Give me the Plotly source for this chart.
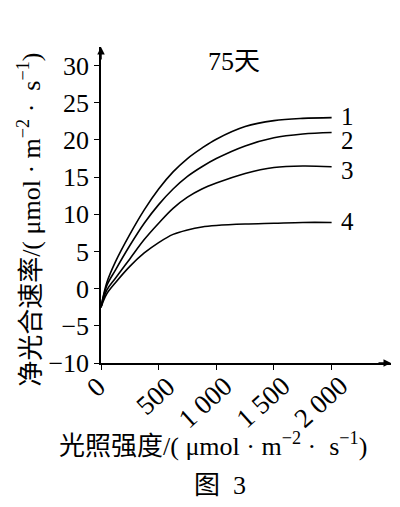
import plotly.graph_objects as go

# Data
light = [0, 50, 125, 250, 375, 500, 625, 750, 875, 1000, 1250, 1500, 1750, 2000]
curve1 = [-2.5, 0.8, 3.6, 7.3, 10.6, 13.4, 15.7, 17.5, 18.9, 20.1, 21.8, 22.6, 22.9, 23.0]
curve2 = [-2.5, 0.4, 2.5, 5.8, 8.8, 11.3, 13.4, 15.1, 16.4, 17.5, 19.2, 20.3, 20.8, 21.0]
curve3 = [-2.5, -0.2, 1.4, 4.0, 6.6, 8.8, 10.8, 12.3, 13.4, 14.2, 15.5, 16.3, 16.5, 16.4]
curve4 = [-2.5, -0.7, 0.8, 3.0, 4.8, 6.2, 7.3, 7.9, 8.3, 8.5, 8.7, 8.8, 8.9, 8.9]
curve_names = ["1", "2", "3", "4"]
label_y = [23.2, 19.9, 15.9, 9.0]

x_ticks = [0, 500, 1000, 1500, 2000]
x_ticktext = ["0", "500", "1 000", "1 500", "2 000"]
y_ticks = [-10, -5, 0, 5, 10, 15, 20, 25, 30]
y_ticktext = ["−10", "−5", "0", "5", "10", "15", "20", "25", "30"]

FONT = "Liberation Serif, Noto Sans CJK SC, serif"

fig = go.Figure()
for ys in [curve1, curve2, curve3, curve4]:
    fig.add_trace(go.Scatter(x=light, y=ys, mode="lines",
                             line=dict(color="black", width=1.6, shape="spline", smoothing=1.0),
                             showlegend=False, hoverinfo="skip"))

for name, ly in zip(curve_names, label_y):
    fig.add_annotation(x=2000, y=ly, text=name, showarrow=False, xanchor="left",
                       yanchor="middle", xshift=7, font=dict(size=25, color="black", family=FONT))

# page body has an 8px margin; figure sized so plot area lands where the reference has it
fig.update_layout(
    width=384, height=491,
    margin=dict(l=93, r=1, t=39, b=136),
    plot_bgcolor="white", paper_bgcolor="white",
    font=dict(family=FONT, color="black", size=22),
    xaxis=dict(range=[0, 2515], tickvals=x_ticks, showticklabels=False,
               automargin=False,
               showgrid=False, zeroline=False, showline=True, linecolor="black", linewidth=1.5,
               ticks="outside", ticklen=5, tickwidth=1.3, tickcolor="black"),
    yaxis=dict(range=[-10, 32.5], tickvals=y_ticks, ticktext=y_ticktext,
               automargin=False,
               showgrid=False, zeroline=False, showline=True, linecolor="black", linewidth=1.5,
               ticks="outside", ticklen=5, tickwidth=1.3, tickcolor="black",
               tickfont=dict(size=26, family=FONT)),
)

# rotated x tick labels
for tv, tt in zip(x_ticks, x_ticktext):
    fig.add_annotation(x=tv, xref="x", y=0, yref="paper", text=tt, showarrow=False,
                       textangle=-42, xanchor="right", yanchor="top",
                       xshift=13 if tv == 0 else 25, yshift=-5,
                       font=dict(size=27, family=FONT))

# axis arrows
fig.add_annotation(xref="paper", yref="paper", x=1.0, y=0, ax=-14, ay=0,
                   showarrow=True, arrowhead=2, arrowsize=1, arrowwidth=1.5, arrowcolor="black", text="")
fig.add_annotation(xref="paper", yref="paper", x=0, y=1.0, ax=0, ay=14,
                   showarrow=True, arrowhead=2, arrowsize=1, arrowwidth=1.5, arrowcolor="black", text="")

# texts
fig.add_annotation(xref="paper", yref="paper", x=0.459, y=0.953, text="75天", showarrow=False,
                   xanchor="center", yanchor="middle", font=dict(size=26, family=FONT))
fig.add_annotation(xref="paper", yref="paper", x=0, y=0.453, xshift=-71, textangle=-90,
                   text="净光合速率/( μmol · m<sup>−2</sup> ·  s<sup>−1</sup>)", showarrow=False,
                   xanchor="center", yanchor="middle", font=dict(size=26, family=FONT))
fig.add_annotation(xref="paper", yref="paper", x=0.386, y=-0.259,
                   text="光照强度/( μmol · m<sup>−2</sup> ·  s<sup>−1</sup>)", showarrow=False,
                   xanchor="center", yanchor="middle", font=dict(size=26, family=FONT))
fig.add_annotation(xref="paper", yref="paper", x=0.41, y=-0.389,
                   text="图  3", showarrow=False, xanchor="center", yanchor="middle",
                   font=dict(size=26, family=FONT))

fig.write_html("out.html")
